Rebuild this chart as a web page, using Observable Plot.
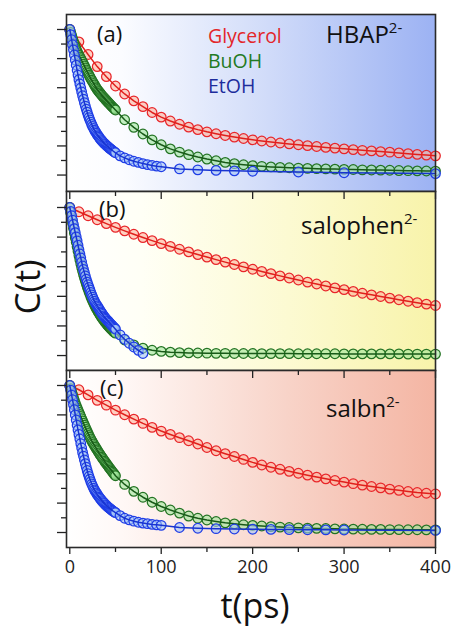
<!DOCTYPE html>
<html>
<head>
<meta charset="utf-8">
<script src="https://cdn.jsdelivr.net/npm/d3@7"></script>
<script src="https://cdn.jsdelivr.net/npm/@observablehq/plot@0.6"></script>
<style>
  html, body { margin: 0; padding: 0; background: #ffffff; }
  #chart { position: relative; width: 453px; height: 628px; overflow: hidden; font-family: "Open Sans", sans-serif; }
  #chart svg { position: absolute; left: 0; overflow: visible; }
</style>
</head>
<body>
<div id="chart"></div>
<script>
// ---------- data ----------
const solvents = ["Glycerol", "BuOH", "EtOH"];
const panelLabels = ["(a)", "(b)", "(c)"];
const compounds = ["HBAP", "salophen", "salbn"];
const charge = "2-";
const xTickLabels = [0, 100, 200, 300, 400];
const xMinorTicks = [50, 150, 250, 350];
const yMajorTicks = [0, 0.2, 0.4, 0.6, 0.8, 1];
const yMinorTicks = [0.1, 0.3, 0.5, 0.7, 0.9];
const xTitle = "t(ps)";
const yTitle = "C(t)";

// time grids (ps)
const tGly = [0,10,20,30,40,50,60,70,80,90,100,110,120,130,140,150,160,170,180,190,200,210,220,230,240,250,260,270,280,290,300,310,320,330,340,350,360,370,380,390,400];
const tDense = [0,1,2,3,4,5,6,7,8,9,10,11,12,13,14,15,16,17,18,19,20,21,22,23,24,25,26,27,28,29,30,31,32,33,34,35,36,37,38,39,40,41,42,43,44,45,46,47,48,49,50];
const tTail10 = [60,70,80,90,100,110,120,130,140,150,160,170,180,190,200,210,220,230,240,250,260,270,280,290,300,310,320,330,340,350,360,370,380,390,400];
const tMid5 = [55,60,65,70,75,80,85,90,95,100];
const tEtohLateA = [120,140,160,180,200,250,300,400];
const tEtohLateB = [55,60,65,70,75,80];
const tEtohLateC = [120,140,160,180,200,220,240,260,280,300,400];

// panel (a) HBAP
const glyA = [1.0,.915,.828,.745,.676,.612,.557,.51,.47,.43,.398,.371,.349,.329,.312,.297,.284,.272,.261,.251,.242,.234,.227,.22,.214,.208,.202,.196,.19,.185,.18,.175,.17,.166,.161,.157,.152,.147,.142,.137,.132];
const buDenseA = [1.0,.98,.96,.939,.918,.899,.88,.865,.85,.836,.823,.811,.80,.787,.775,.762,.75,.736,.723,.71,.698,.686,.675,.663,.652,.641,.63,.619,.608,.598,.588,.58,.572,.564,.556,.548,.541,.534,.527,.52,.513,.506,.499,.492,.486,.479,.472,.466,.46,.453,.447];
const buTailA = [.38,.328,.282,.242,.208,.18,.158,.14,.124,.11,.098,.087,.078,.071,.065,.06,.056,.053,.05,.048,.046,.044,.042,.041,.039,.038,.036,.035,.034,.033,.031,.03,.029,.028,.027];
const etDenseA = [1.0,.965,.93,.895,.86,.825,.79,.755,.72,.687,.655,.626,.598,.571,.545,.521,.497,.474,.452,.432,.412,.395,.378,.363,.348,.334,.321,.309,.298,.288,.278,.269,.26,.251,.243,.236,.229,.222,.216,.21,.204,.198,.193,.187,.182,.177,.172,.167,.162,.157,.153];
const etMidA = [.132,.118,.105,.095,.087,.079,.072,.066,.061,.057];
const etLateA = [.042,.036,.032,.029,.026,.021,.016,.01];

// panel (b) salophen
const glyB = [1.0,.971,.944,.917,.891,.866,.842,.819,.797,.776,.756,.737,.718,.70,.682,.665,.648,.631,.615,.599,.583,.568,.553,.538,.524,.51,.496,.483,.47,.457,.445,.433,.421,.41,.399,.388,.377,.367,.357,.347,.338];
const buDenseB = [1.0,.965,.93,.895,.86,.827,.795,.765,.735,.705,.675,.647,.62,.595,.57,.547,.525,.505,.485,.466,.448,.431,.414,.398,.383,.369,.355,.342,.33,.318,.307,.296,.286,.276,.266,.257,.248,.239,.231,.223,.215,.207,.2,.193,.187,.18,.174,.168,.162,.156,.151];
const buTailB = [.105,.072,.05,.036,.028,.023,.02,.018,.017,.016,.015,.015,.014,.014,.014,.013,.013,.013,.013,.012,.012,.012,.012,.012,.011,.011,.011,.011,.011,.011,.011,.01,.01,.01,.01];
const etDenseB = [1.0,.973,.945,.915,.885,.857,.83,.802,.775,.745,.715,.687,.66,.632,.605,.582,.56,.537,.515,.496,.478,.46,.443,.426,.41,.395,.38,.367,.355,.345,.335,.325,.315,.305,.295,.286,.277,.268,.26,.252,.245,.238,.232,.225,.218,.211,.205,.198,.192,.185,.178];
const etLateB = [.14,.11,.083,.058,.035,.014];

// panel (c) salbn
const glyC = [1.0,.971,.936,.899,.866,.832,.801,.771,.742,.715,.69,.667,.645,.624,.602,.578,.556,.536,.517,.497,.477,.459,.444,.43,.416,.403,.39,.377,.365,.354,.343,.332,.322,.313,.304,.295,.287,.279,.272,.267,.262];
const buDenseC = [1.0,.979,.958,.938,.918,.899,.88,.864,.848,.833,.818,.803,.789,.774,.759,.744,.73,.716,.702,.688,.674,.661,.648,.636,.624,.613,.602,.591,.581,.571,.561,.551,.541,.531,.522,.513,.504,.495,.486,.477,.468,.459,.451,.442,.434,.426,.418,.41,.402,.394,.386];
const buTailC = [.327,.28,.24,.206,.177,.153,.132,.112,.097,.085,.075,.066,.059,.053,.048,.044,.04,.037,.034,.032,.03,.028,.027,.025,.024,.023,.022,.021,.021,.02,.02,.019,.019,.018,.018];
const etDenseC = [1.0,.968,.935,.903,.87,.835,.80,.765,.73,.698,.667,.636,.605,.575,.545,.519,.493,.468,.444,.422,.40,.381,.363,.346,.33,.316,.302,.29,.279,.269,.259,.25,.241,.233,.225,.217,.21,.203,.197,.19,.184,.178,.172,.167,.162,.157,.152,.147,.143,.139,.135];
const etMidC = [.115,.097,.086,.077,.07,.064,.06,.055,.052,.049];
const etLateC = [.034,.029,.026,.024,.022,.021,.02,.019,.018,.017,.014];

// ---------- styling ----------
const style = {
  Glycerol: {stroke: "#e8262a", fill: "#ffb39c", line: "#e0201c", text: "#e3262a"},
  BuOH:     {stroke: "#237323", fill: "#9fe69a", line: "#185a18", text: "#237a23"},
  EtOH:     {stroke: "#1f3de6", fill: "#a4c4f6", line: "#1834d0", text: "#1d2c9c"}
};
const gradients = {
  a: [[0, "#ffffff"], [0.15, "#fbfcff"], [0.55, "#d0dbf9"], [1, "#9cb2f3"]],
  b: [[0, "#ffffff"], [0.2, "#fffff6"], [0.6, "#fcfad2"], [1, "#f8f3aa"]],
  c: [[0, "#ffffff"], [0.15, "#fff8f6"], [0.6, "#f8d3c8"], [1, "#f4b5a3"]]
};

const rows = (ts, vs) => ts.map((t, i) => ({t, c: vs[i]}));

const panels = [
  {id: "a", top: 0, mt: 14, fh: 177, mb: 4, yd: [-0.113, 1.103],
   series: {Glycerol: rows(tGly, glyA),
            BuOH: rows(tDense.concat(tTail10), buDenseA.concat(buTailA)),
            EtOH: rows(tDense.concat(tMid5, tEtohLateA), etDenseA.concat(etMidA, etLateA))}},
  {id: "b", top: 189, mt: 2, fh: 179, mb: 4, yd: [-0.101, 1.108],
   series: {Glycerol: rows(tGly, glyB),
            BuOH: rows(tDense.concat(tTail10), buDenseB.concat(buTailB)),
            EtOH: rows(tDense.concat(tEtohLateB), etDenseB.concat(etLateB))}},
  {id: "c", top: 368, mt: 2, fh: 177, mb: 81, yd: [-0.102, 1.102],
   series: {Glycerol: rows(tGly, glyC),
            BuOH: rows(tDense.concat(tTail10), buDenseC.concat(buTailC)),
            EtOH: rows(tDense.concat(tMid5, tEtohLateC), etDenseC.concat(etMidC, etLateC))}}
];

const chart = document.getElementById("chart");
const FONT = "Open Sans, sans-serif";

panels.forEach((p, pi) => {
  const H = p.mt + p.fh + p.mb;
  const marks = [Plot.frame({fill: `url(#grad-${p.id})`, stroke: null})];
  for (const s of solvents) {
    const st = style[s];
    marks.push(Plot.dot(p.series[s], {x: "t", y: "c", r: 4.8, stroke: st.stroke, strokeWidth: 1.25,
                                      fill: st.fill, fillOpacity: 0.6}));
    marks.push(Plot.line(p.series[s], {x: "t", y: "c", stroke: st.line, strokeWidth: 1.5}));
  }
  // y ticks (no labels)
  marks.push(Plot.axisY({ticks: yMajorTicks, tickSize: 9, tickFormat: () => "", label: null, stroke: "#222", strokeWidth: 1.3}));
  marks.push(Plot.axisY({ticks: yMinorTicks, tickSize: 5, tickFormat: () => "", label: null, stroke: "#222", strokeWidth: 1.3}));
  // ticks along the top edge of panels (b) and (c)
  if (p.id !== "a") {
    marks.push(Plot.ruleX(xTickLabels, {x: d => d, insetBottom: p.fh - 8, stroke: "#222", strokeWidth: 1.3}));
    marks.push(Plot.ruleX(xMinorTicks, {x: d => d, insetBottom: p.fh - 5, stroke: "#222", strokeWidth: 1.3}));
  }
  if (p.id === "c") {
    marks.push(Plot.axisX({ticks: xTickLabels, tickSize: 7, tickPadding: 6, fontSize: 18, label: null,
                           stroke: "#222", strokeWidth: 1.3, fill: "#222"}));
    marks.push(Plot.axisX({ticks: xMinorTicks, tickSize: 5, tickFormat: () => "", label: null,
                           stroke: "#222", strokeWidth: 1.3}));
  }
  marks.push(Plot.frame({stroke: "#2a2a2a", strokeWidth: 1.6}));

  const svg = Plot.plot({
    width: 453, height: H,
    marginLeft: 66, marginRight: 18, marginTop: p.mt, marginBottom: p.mb,
    x: {domain: [-3.6, 400], axis: null},
    y: {domain: p.yd, axis: null},
    style: {fontFamily: FONT, fontSize: "18px", color: "#222", background: "transparent", overflow: "visible"},
    marks
  });
  svg.style.top = p.top + "px";
  chart.appendChild(svg);

  const S = d3.select(svg);
  const grad = S.insert("defs", ":first-child").append("linearGradient")
    .attr("id", `grad-${p.id}`).attr("x1", "0%").attr("x2", "100%").attr("y1", "0%").attr("y2", "0%");
  gradients[p.id].forEach(([o, c]) => grad.append("stop").attr("offset", o).attr("stop-color", c));

  // panel letter
  const letterY = [42, 217 - 189, 395.5 - 368][pi];
  S.append("text").attr("x", [97, 99, 100][pi]).attr("y", letterY).attr("text-anchor", "start")
    .attr("font-family", FONT).attr("font-size", 22).attr("fill", "#111").text(panelLabels[pi]);

  // compound name with superscript charge
  const nameX = [326, 301, 326][pi];
  const nameY = [43.3, 234.3 - 189, 416.7 - 368][pi];
  const tx = S.append("text").attr("x", nameX).attr("y", nameY).attr("text-anchor", "start")
    .attr("font-family", FONT).attr("font-size", 24).attr("fill", "#111");
  tx.append("tspan").text(compounds[pi]);
  tx.append("tspan").attr("font-size", 15).attr("dy", -10).text(charge);

  if (p.id === "a") {
    solvents.forEach((s, i) => {
      S.append("text").attr("x", 208).attr("y", 43.3 + i * 25).attr("text-anchor", "start")
        .attr("font-family", FONT).attr("font-size", 19.5).attr("fill", style[s].text).text(s);
    });
  }
  if (p.id === "b") {
    S.append("text").attr("transform", `translate(40,${287 - 189}) rotate(-90)`)
      .attr("text-anchor", "middle").attr("font-family", FONT).attr("font-size", 35)
      .attr("fill", "#111").text(yTitle);
  }
  if (p.id === "c") {
    S.append("text").attr("x", 255).attr("y", 618 - 368).attr("text-anchor", "middle")
      .attr("font-family", FONT).attr("font-size", 34).attr("fill", "#111").text(xTitle);
  }
});
</script>
</body>
</html>
